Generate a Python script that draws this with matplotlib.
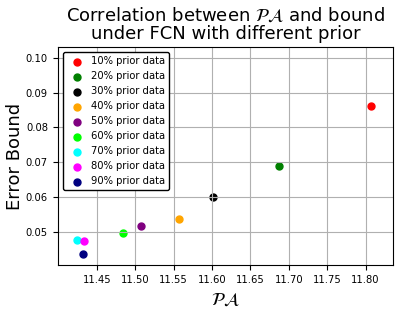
import matplotlib
matplotlib.use('Agg')
from matplotlib import pyplot as plt

# данные
labels = ['10% prior data', '20% prior data', '30% prior data', '40% prior data',
          '50% prior data', '60% prior data', '70% prior data', '80% prior data',
          '90% prior data']
colors = ['red', 'green', 'black', 'orange', 'purple', 'lime', 'cyan', 'magenta', 'navy']
pa = [11.807, 11.687, 11.601, 11.557, 11.508, 11.484, 11.424, 11.434, 11.432]
bound = [0.0861, 0.0689, 0.0602, 0.0538, 0.0518, 0.0498, 0.0478, 0.0475, 0.0438]

fig, ax = plt.subplots(figsize=(4, 3.12), dpi=100)
fig.subplots_adjust(left=0.144, right=0.983, top=0.848, bottom=0.15)

for x, y, c, lab in zip(pa, bound, colors, labels):
    ax.scatter(x, y, color=c, s=25, label=lab)

ax.set_xlim(11.399, 11.836)
ax.set_ylim(0.0406, 0.1029)
ax.set_xticks([11.45, 11.50, 11.55, 11.60, 11.65, 11.70, 11.75, 11.80])
ax.set_yticks([0.05, 0.06, 0.07, 0.08, 0.09, 0.10])
ax.tick_params(labelsize=7.2)
ax.grid(True)

ax.set_title('Correlation between $\\mathcal{PA}$ and bound\nunder FCN with different prior',
             fontsize=13, linespacing=1.0)
ax.set_xlabel('$\\mathcal{PA}$', fontsize=13)
ax.set_ylabel('Error Bound', fontsize=13, labelpad=1)

leg = ax.legend(loc='upper left', fontsize=7.2, scatterpoints=1, framealpha=1,
                edgecolor='black', handletextpad=0.4, labelspacing=0.5)

fig.savefig('out.png')
